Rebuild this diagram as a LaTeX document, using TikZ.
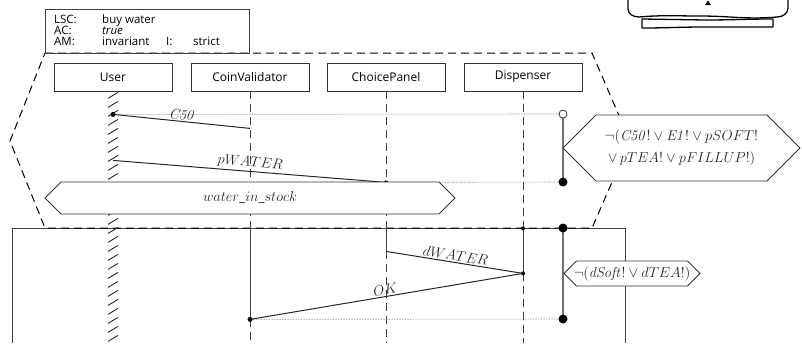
\documentclass[tikz,border=0pt]{standalone}
\usepackage[no-math]{fontspec}
\setmainfont{Open Sans}
\usetikzlibrary{calc}
\newcommand\DrawHex[6]{
  \pgfmathsetmacro\HexHalf{(#5-#4)/2}
  \pgfmathsetmacro\HexMid{(#4+#5)/2}
  \filldraw[fill=white,draw=black!80,line width=0.8pt]
    (#2,\HexMid) -- ({#2+\HexHalf},#4) -- ({#3-\HexHalf},#4) --
    (#3,\HexMid) -- ({#3-\HexHalf},#5) -- ({#2+\HexHalf},#5) -- cycle;
  \node[condtext] (#1) at ({(#2+#3)/2},\HexMid) {#6};
}

\begin{document}
\begin{tikzpicture}[x=1pt,y=-1pt,
  instbox/.style={draw=black!80,line width=0.8pt,minimum width=118pt,minimum height=28pt,inner sep=0pt,font=\fontsize{12}{14}\selectfont},
  headtext/.style={anchor=base west,inner sep=0pt,font=\fontsize{11.5}{11}\selectfont},
  msgtext/.style={midway,sloped,above,inner sep=1.5pt,text=black!85,font=\fontsize{14}{17}\selectfont},
  condtext/.style={align=center,inner sep=0pt,text=black!85,font=\fontsize{13.5}{22}\selectfont},
  msg/.style={line width=1pt,black!85},
  cold/.style={line width=1pt,black!75,dash pattern=on 8pt off 5pt},
  hot/.style={line width=1pt,black!75},
  sync/.style={black!60,densely dotted,line width=0.6pt},
  bar/.style={line width=1.4pt,black!55}]

	\useasboundingbox (0,0) rectangle (802,343);

	% main chart and prechart
	\draw[hot] (12,343) -- (12,228) -- (625,228) -- (625,343);
	\draw[cold,black] (45,53) -- (592,53) -- (630,141) -- (592,228) -- (45,228) -- (10,141) -- cycle;

	% the header
	\draw[hot] (45,9) rectangle (249,53);
	\foreach \i/\Key/\Val/\Y in {1/LSC:/buy water/23.5,2/AC:/\textit{true}/34.5,3/AM:/invariant/45.5}{
	  \node[headtext] (key\i) at (54,\Y) {\Key};
	  \node[headtext] (val\i) at (102,\Y) {\Val};
	}
	\node[headtext] (ilabel) at (166,45.5) {I:};
	\node[headtext] (strict) at (193,45.5) {strict};

	% the instances
	\foreach \Name/\Label/\X in {user/User/113,coin/CoinValidator/250,choice/ChoicePanel/386,disp/Dispenser/523}
	  \node[instbox] (\Name) at (\X,77) {\Label};

	% points on the lifelines
	\path
	  (user.south) ++(0,23) coordinate (c50s)
	  (coin.south) ++(0,37) coordinate (c50r)
	  (user.south) ++(0,69) coordinate (pwats)
	  (choice.south) ++(0,91) coordinate (pwatr)
	  (choice.south) ++(0,160) coordinate (dwats)
	  (disp.south) ++(0,182) coordinate (dwatr)
	  (coin.south) ++(0,228) coordinate (okr);
	\foreach \Name in {coin,choice,disp}
	  \path (\Name.south) ++(0,137) coordinate (\Name main) ++(0,115) coordinate (\Name end);
	\coordinate (bar1) at (563,114);
	\coordinate (bar2) at (563,182);
	\coordinate (bar3) at (563,228);
	\coordinate (bar4) at (563,319);

	% the lifelines
	\draw[cold] (coin.south) -- (coinmain);
	\draw[hot] (coinmain) -- (okr);
	\draw[cold] (okr) -- (coinend);
	\draw[cold] (choice.south) -- (choicemain);
	\draw[hot] (choicemain) -- (dwats);
	\draw[cold] (dwats) -- (choiceend);
	\draw[cold] (disp.south) -- (dispmain);
	\draw[hot] (dispmain) -- (dwatr);
	\draw[cold] (dwatr) -- (dispend);
	\foreach \Y in {0,9,...,252}
	  \draw[line width=0.9pt,black!85] ($(user.south)+(-5,{\Y+7})$) -- ++(10,-6);

	% the messages
	\draw[sync] (c50s) -- (bar1);
	\draw[msg] (c50s) -- node[msgtext] {$\mathit{C50}$} (c50r);
	\fill (c50s) circle (2.5pt);
	\draw[sync] (pwatr) -- (bar2);
	\draw[msg] (pwats) -- node[msgtext] {$pWATER$} (pwatr);
	\fill (pwatr) circle (2pt);
	\DrawHex{instock}{45}{455}{182}{214}{$water\_in\_stock$}
	\draw[msg] (dwats) -- node[msgtext] {$dWATER$} (dwatr);
	\fill (dwatr) circle (2pt);
	\fill (dispmain) circle (2pt);
	\draw[sync] (okr) -- (bar4);
	\draw[msg] (okr) -- node[msgtext] {$OK$} (dwatr);
	\fill (okr) circle (2.5pt);

	% the conditions
	\draw[bar] (bar1) -- (bar2);
	\draw[bar] (bar3) -- (bar4);
	\DrawHex{precond}{563}{800}{115}{181}{$\neg(\mathit{C50}!\vee \mathit{E1}!\vee pSOFT!$\\$\vee\, pTEA!\vee pFILLUP!)$}
	\DrawHex{maincond}{564}{700}{261}{286}{$\neg(\mathit{dSoft}!\vee dTEA!)$}
	\filldraw[fill=white,draw=black!80,line width=0.8pt] (bar1) circle (4pt);
	\foreach \Name in {bar2,bar3,bar4}
	  \fill (\Name) circle (4.5pt);

	% the machine in the corner
	\draw[line width=1.3pt,line join=round]
	  (628,0) -- (628,9) to[out=-90,in=180] (639,17) to[out=5,in=180] (700,16)
	  to[out=0,in=185] (777,17) to[out=0,in=-90] (788,8) -- (788,0);
	\draw[line width=1.3pt,line join=round]
	  (642,19) -- (642,28) to[out=0,in=180] (705,27) -- (773,27) -- (773,19)
	  to[out=180,in=0] (705,20) -- cycle;
	\fill (705,5) -- (708,0.5) -- (711,5) -- cycle;
\end{tikzpicture}
\end{document}
